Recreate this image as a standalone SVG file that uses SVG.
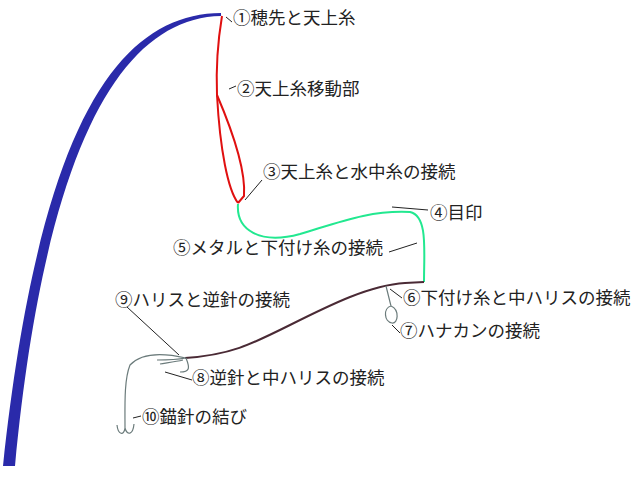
<svg xmlns="http://www.w3.org/2000/svg" width="640" height="480" viewBox="0 0 640 480">
<style>
text{font-family:"Noto Sans CJK JP","Liberation Sans",sans-serif;font-size:17.5px;fill:#222}
.l{stroke:#222;stroke-width:1;fill:none}
.h{stroke:#6b7b7b;stroke-width:1.2;fill:none}
</style>
<rect width="640" height="480" fill="#fff"/>
<g id="rod"><path d="M221,13 C120,14 40,120 3,466 L15,466 C45,150 120,18 221,16 Z" fill="#2a2aaa"/></g>
<g id="lines" fill="none">
<path d="M222,16 C218,40 216,70 217,95 C220,150 228,190 238,203" stroke="#e01010" stroke-width="2"/>
<path d="M217,95 C232,130 246,170 244,196 L238,203" stroke="#e01010" stroke-width="2"/>
<path d="M238,204 C236,230 260,245 300,234 C340,222 370,210 410,212 C428,216 424,250 424,282" stroke="#22e890" stroke-width="2"/>
<path d="M424,282 L405,283 C370,285 330,305 290,325 C250,345 230,355 185,358" stroke="#4a2a35" stroke-width="2"/>
<path class="h" d="M186,358 C160,352 140,354 130,365 C124,380 125,405 125,428 C124,436 118,435 117,425 M125,428 C127,436 133,435 134,424 M186,358 C175,360 165,360 157,360 M183,360 C175,362 165,363 160,364 M186,358 C190,368 190,372 180,372"/>
<path class="h" d="M386,286 L391,306 C383,308 384,322 392,323 C398,324 400,310 391,306"/>
</g>
<g id="connectors">
<path class="l" d="M232,22 L226,17 M236,86 L229,89 M262,180 L245,200 M428,210 L392,207 M417,243 L389,252 M402,298 L390,289 M400,333 L392,325 M127,307 L179,355 M192,380 L165,372 M141,416 L133,418"/>
</g>
<g id="labels">
<text x="233" y="24">①穂先と天上糸</text>
<text x="237" y="95">②天上糸移動部</text>
<text x="263" y="178">③天上糸と水中糸の接続</text>
<text x="430" y="219">④目印</text>
<text x="173" y="254">⑤メタルと下付け糸の接続</text>
<text x="403" y="304">⑥下付け糸と中ハリスの接続</text>
<text x="400" y="337">⑦ハナカンの接続</text>
<text x="115" y="306">⑨ハリスと逆針の接続</text>
<text x="192" y="384">⑧逆針と中ハリスの接続</text>
<text x="142" y="423">⑩錨針の結び</text>
</g>
</svg>
